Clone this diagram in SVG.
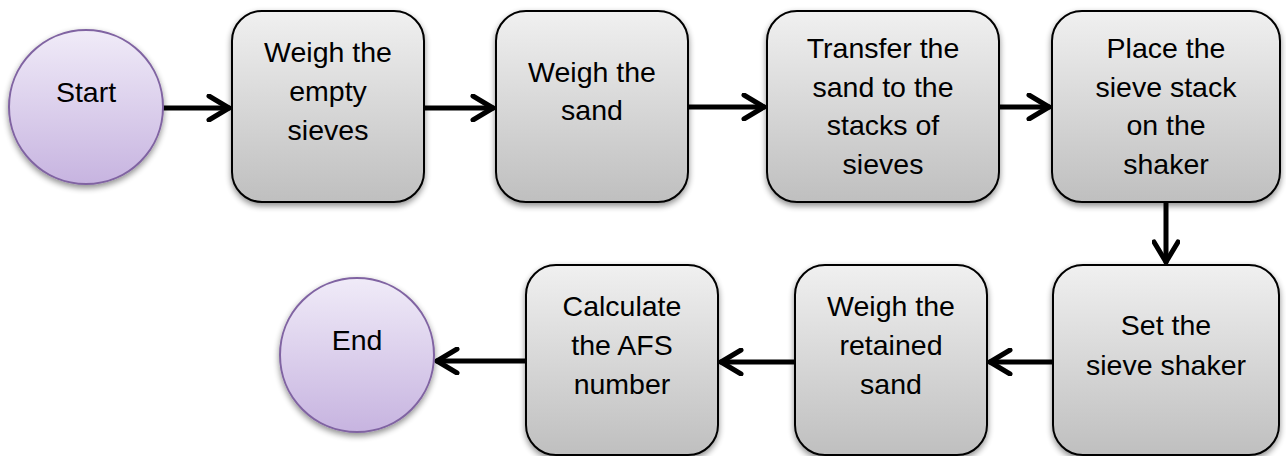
<svg xmlns="http://www.w3.org/2000/svg" width="1286" height="456" viewBox="0 0 1286 456">
  <style>
    .box { fill: url(#boxFill); stroke: #000; stroke-width: 2; filter: url(#shadow); }
    .term { fill: url(#termFill); stroke: #8064a2; stroke-width: 2; filter: url(#shadow); }
    .label { font-family: "Liberation Sans", Arial, sans-serif; font-size: 28.5px; fill: #000; text-anchor: middle; }
    .link { stroke: #000; stroke-width: 5; fill: none; stroke-linecap: round; }
  </style>
  <defs>
    <linearGradient id="boxFill" x1="0" y1="0" x2="0" y2="1">
      <stop offset="0" stop-color="#f0f0f0"/>
      <stop offset="1" stop-color="#bfbfbf"/>
    </linearGradient>
    <linearGradient id="termFill" x1="0" y1="0" x2="0" y2="1">
      <stop offset="0" stop-color="#f0ebf8"/>
      <stop offset="1" stop-color="#c7b4e0"/>
    </linearGradient>
    <filter id="shadow" x="-20%" y="-20%" width="140%" height="140%">
      <feGaussianBlur in="SourceAlpha" stdDeviation="3"/>
      <feOffset dx="0" dy="3" result="blur"/>
      <feComponentTransfer><feFuncA type="linear" slope="0.45"/></feComponentTransfer>
      <feMerge><feMergeNode/><feMergeNode in="SourceGraphic"/></feMerge>
    </filter>
    <marker id="arrow" viewBox="-24 -14 28 28" markerWidth="28" markerHeight="28" refX="0" refY="0" orient="auto" markerUnits="userSpaceOnUse">
      <path d="M-20,-12 L0,0 L-20,12" fill="none" stroke="#000" stroke-width="5" stroke-linecap="round" stroke-linejoin="round"/>
    </marker>
  </defs>

  <!-- connectors -->
  <g id="connectors">
    <line class="link" x1="163" y1="108" x2="229" y2="108" marker-end="url(#arrow)"/>
    <line class="link" x1="424" y1="108" x2="493" y2="108" marker-end="url(#arrow)"/>
    <line class="link" x1="688" y1="107" x2="764" y2="107" marker-end="url(#arrow)"/>
    <line class="link" x1="999" y1="107" x2="1049" y2="107" marker-end="url(#arrow)"/>
    <line class="link" x1="1166" y1="202" x2="1166" y2="262" marker-end="url(#arrow)"/>
    <line class="link" x1="1053" y1="362" x2="990" y2="362" marker-end="url(#arrow)"/>
    <line class="link" x1="795" y1="362" x2="721" y2="362" marker-end="url(#arrow)"/>
    <line class="link" x1="526" y1="361" x2="437" y2="361" marker-end="url(#arrow)"/>
  </g>

  <!-- terminals -->
  <g id="start">
    <circle class="term" cx="86" cy="107" r="77"/>
    <text class="label" x="86" y="102">Start</text>
  </g>
  <g id="end">
    <circle class="term" cx="357" cy="355" r="77"/>
    <text class="label" x="357" y="350">End</text>
  </g>

  <!-- process steps, top row -->
  <g id="weigh-empty">
    <rect class="box" x="232" y="11" width="192" height="191" rx="30"/>
    <text class="label" x="328" y="62">Weigh the</text>
    <text class="label" x="328" y="101">empty</text>
    <text class="label" x="328" y="140">sieves</text>
  </g>
  <g id="weigh-sand">
    <rect class="box" x="496" y="11" width="192" height="191" rx="30"/>
    <text class="label" x="592" y="82">Weigh the</text>
    <text class="label" x="592" y="120">sand</text>
  </g>
  <g id="transfer">
    <rect class="box" x="767" y="11" width="232" height="191" rx="30"/>
    <text class="label" x="883" y="58">Transfer the</text>
    <text class="label" x="883" y="97">sand to the</text>
    <text class="label" x="883" y="135">stacks of</text>
    <text class="label" x="883" y="174">sieves</text>
  </g>
  <g id="place-stack">
    <rect class="box" x="1052" y="11" width="228" height="191" rx="30"/>
    <text class="label" x="1166" y="58">Place the</text>
    <text class="label" x="1166" y="97">sieve stack</text>
    <text class="label" x="1166" y="135">on the</text>
    <text class="label" x="1166" y="174">shaker</text>
  </g>

  <!-- process steps, bottom row -->
  <g id="set-shaker">
    <rect class="box" x="1053" y="265" width="226" height="190" rx="30"/>
    <text class="label" x="1166" y="335">Set the</text>
    <text class="label" x="1166" y="375">sieve shaker</text>
  </g>
  <g id="weigh-retained">
    <rect class="box" x="795" y="265" width="192" height="190" rx="30"/>
    <text class="label" x="891" y="316">Weigh the</text>
    <text class="label" x="891" y="355">retained</text>
    <text class="label" x="891" y="394">sand</text>
  </g>
  <g id="calculate">
    <rect class="box" x="526" y="265" width="192" height="190" rx="30"/>
    <text class="label" x="622" y="316">Calculate</text>
    <text class="label" x="622" y="355">the AFS</text>
    <text class="label" x="622" y="394">number</text>
  </g>
</svg>
